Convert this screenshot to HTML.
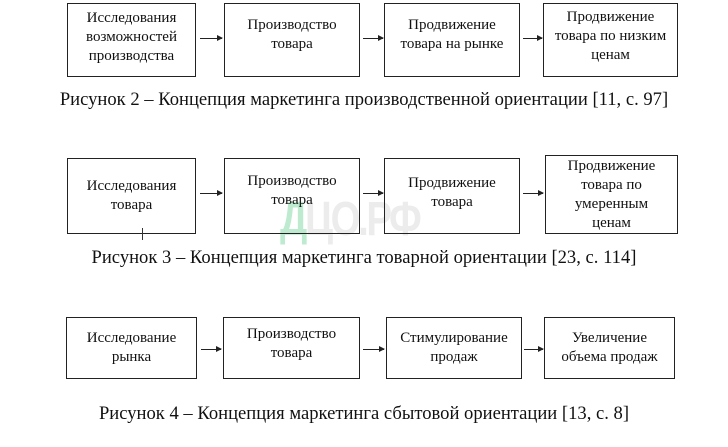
<!DOCTYPE html>
<html><head><meta charset="utf-8"><style>
body{margin:0;width:728px;height:447px;background:#fff;position:relative;overflow:hidden;font-family:"Liberation Serif",serif;color:#111}
.b{position:absolute;border:1.3px solid #222;box-sizing:border-box;display:flex;align-items:center;justify-content:center;text-align:center;font-size:15px;line-height:19px}
.a{position:absolute;height:1px;background:#222}
.a:after{content:"";position:absolute;right:-1px;top:-3px;border-left:6px solid #222;border-top:3.5px solid transparent;border-bottom:3.5px solid transparent}
.c{position:absolute;left:0;width:728px;text-align:center;font-size:18.6px;white-space:nowrap}
.wm{position:absolute;left:280px;top:192px;font-family:"Liberation Sans",sans-serif;font-size:48px;font-weight:bold;color:rgba(110,210,150,0.45);letter-spacing:-3px;transform:scaleX(0.8);transform-origin:left top}
.wm span{color:rgba(200,200,200,0.35)}
</style></head><body>
<div class="wm">Д<span>ЦО.РФ</span></div>

<div class="b" style="left:67px;top:3px;width:129px;height:74px;padding-bottom:6px">Исследования<br>возможностей<br>производства</div>
<div class="a" style="left:200px;top:38px;width:22px"></div>
<div class="b" style="left:224px;top:3px;width:136px;height:74px;padding-bottom:10px">Производство<br>товара</div>
<div class="a" style="left:363px;top:38px;width:20px"></div>
<div class="b" style="left:384px;top:3px;width:136px;height:74px;padding-bottom:10px">Продвижение<br>товара на рынке</div>
<div class="a" style="left:523px;top:38px;width:19px"></div>
<div class="b" style="left:543px;top:3px;width:135px;height:74px;padding-bottom:8px">Продвижение<br>товара по низким<br>ценам</div>
<div class="c" style="top:89px">Рисунок 2 – Концепция маркетинга производственной ориентации [11, с. 97]</div>

<div class="b" style="left:67px;top:158px;width:129px;height:76px">Исследования<br>товара</div>
<div class="a" style="left:200px;top:193px;width:22px"></div>
<div class="b" style="left:224px;top:158px;width:136px;height:76px;padding-bottom:10px">Производство<br>товара</div>
<div class="a" style="left:363px;top:193px;width:20px"></div>
<div class="b" style="left:384px;top:158px;width:136px;height:76px;padding-bottom:6px">Продвижение<br>товара</div>
<div class="a" style="left:523px;top:193px;width:20px"></div>
<div class="b" style="left:545px;top:155px;width:133px;height:79px">Продвижение<br>товара по<br>умеренным<br>ценам</div>
<div style="position:absolute;left:142px;top:228px;width:1px;height:12px;background:#333"></div>
<div class="c" style="top:247px">Рисунок 3 – Концепция маркетинга товарной ориентации [23, с. 114]</div>

<div class="b" style="left:66px;top:317px;width:131px;height:62px">Исследование<br>рынка</div>
<div class="a" style="left:201px;top:349px;width:20px"></div>
<div class="b" style="left:223px;top:317px;width:137px;height:62px;padding-bottom:8px">Производство<br>товара</div>
<div class="a" style="left:363px;top:349px;width:21px"></div>
<div class="b" style="left:386px;top:317px;width:136px;height:62px">Стимулирование<br>продаж</div>
<div class="a" style="left:524px;top:349px;width:19px"></div>
<div class="b" style="left:544px;top:317px;width:131px;height:62px">Увеличение<br>объема продаж</div>
<div class="c" style="top:403px">Рисунок 4 – Концепция маркетинга сбытовой ориентации [13, с. 8]</div>
</body></html>
